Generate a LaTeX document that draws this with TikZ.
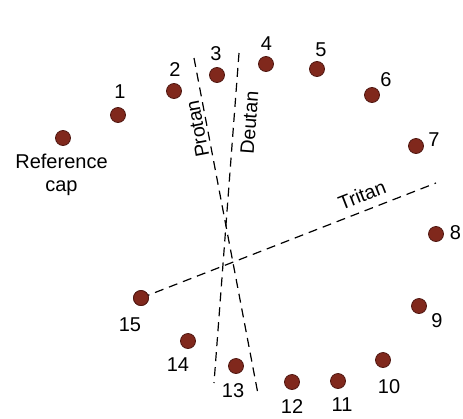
\documentclass[tikz,border=0pt]{standalone}
\usepackage{fontspec}
\setmainfont{Liberation Sans}
\definecolor{capfill}{RGB}{128,40,28}
\definecolor{capedge}{RGB}{80,24,18}
\begin{document}
\begin{tikzpicture}[x=1pt,y=-1pt,
  capdot/.style={circle,fill=capfill,draw=capedge,line width=0.8pt,minimum size=15pt,inner sep=0pt},
  num/.style={inner sep=0pt,font=\fontsize{20}{22}\selectfont},
  axislabel/.style={inner sep=0pt,font=\fontsize{19.5}{21}\selectfont},
  confusion/.style={dash pattern=on 9pt off 6pt,line width=1.2pt,black}]
\useasboundingbox (0,0) rectangle (463,418);

% caps arranged in the test sequence
\node[capdot] (ref) at (63,138) {};
\node[capdot] (c1) at (118,115) {};
\node[capdot] (c2) at (174,91) {};
\node[capdot] (c3) at (217,75) {};
\node[capdot] (c4) at (266,64) {};
\node[capdot] (c5) at (317,69) {};
\node[capdot] (c6) at (372,95) {};
\node[capdot] (c7) at (416,146) {};
\node[capdot] (c8) at (436,234) {};
\node[capdot] (c9) at (419,306) {};
\node[capdot] (c10) at (383,360) {};
\node[capdot] (c11) at (338,381) {};
\node[capdot] (c12) at (292,382) {};
\node[capdot] (c13) at (236,366) {};
\node[capdot] (c14) at (188,341) {};
\node[capdot] (c15) at (141,298) {};

% cap numbers
\node[num,anchor=base] (lref) at (61.5,168) {Reference};
\node[num,anchor=base] (lcap) at (61.5,191) {cap};
\node[num] (l1) at (120,92) {1};
\node[num] (l2) at (175,69.5) {2};
\node[num] (l3) at (216,53.5) {3};
\node[num] (l4) at (266.5,44) {4};
\node[num] (l5) at (321,50) {5};
\node[num] (l6) at (386,80) {6};
\node[num] (l7) at (434,140) {7};
\node[num] (l8) at (455.5,233) {8};
\node[num] (l9) at (437,321) {9};
\node[num] (l10) at (389,387) {10};
\node[num] (l11) at (342,405) {11};
\node[num] (l12) at (292,407) {12};
\node[num] (l13) at (233,391) {13};
\node[num] (l14) at (178,365) {14};
\node[num] (l15) at (130,325) {15};

% confusion axes
\coordinate (protanTop) at (194,58);
\coordinate (protanBot) at (258,394);
\coordinate (deutanTop) at (239,53);
\coordinate (deutanBot) at (214,383);
\coordinate (tritanEnd) at (436,183);

\draw[confusion] (protanTop) -- (protanBot);
\draw[confusion] (deutanTop) -- (deutanBot);
\draw[confusion] (c15.center) -- (tritanEnd);

\node[axislabel,rotate=100.8] (tprotan) at (197.5,129) {Protan};
\node[axislabel,rotate=85.7] (tdeutan) at (249.5,123) {Deutan};
\node[axislabel,rotate=21.3] (ttritan) at (362,195) {Tritan};

% redraw cap 15 over the axis start
\node[capdot] at (c15) {};
\end{tikzpicture}
\end{document}
